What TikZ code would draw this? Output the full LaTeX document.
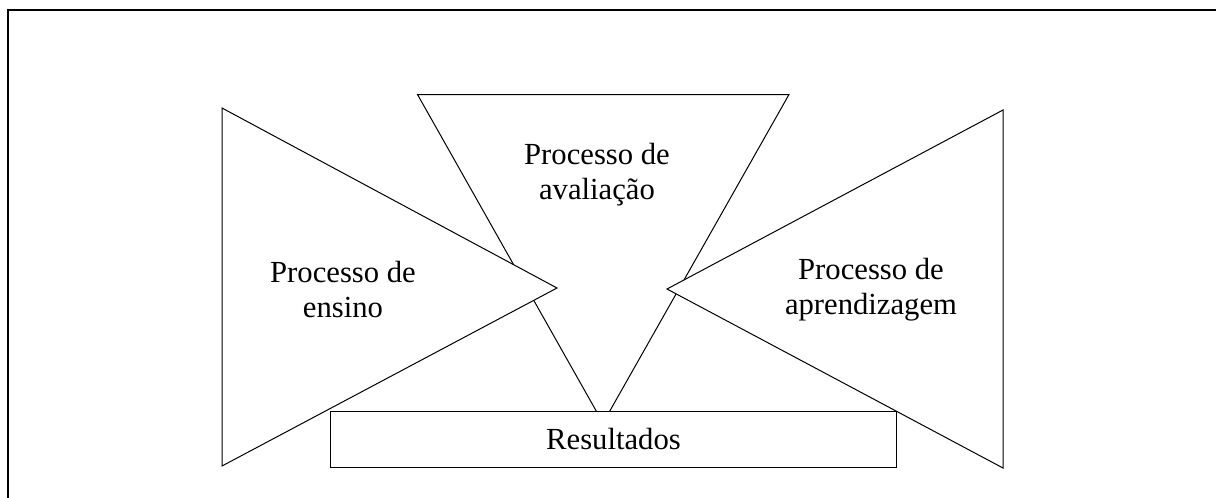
\documentclass[tikz,border=0pt]{standalone}
\usepackage{fontspec}
\setmainfont{Liberation Serif}
\begin{document}
\begin{tikzpicture}[x=0.75pt,y=-0.75pt,
  shapeline/.style={draw=black,line width=0.75pt,fill=white,line join=miter},
  framebox/.style={draw=black,line width=2pt},
  label/.style={align=center,font=\fontsize{23}{26.25}\selectfont,inner sep=0pt}]
\useasboundingbox (0,0) rectangle (1216,497);
\begin{scope}
\clip (0,0) rectangle (1216,497);
\draw[framebox] (8,520) -- (8,10) -- (1240,10);
\end{scope}
% central inverted triangle
\coordinate (cA) at (417.5,94.5);
\coordinate (cB) at (789,94.5);
\coordinate (cC) at (603,423);
\draw[shapeline] (cA) -- (cB) -- (cC) -- cycle;
% left triangle
\coordinate (lA) at (222,108);
\coordinate (lB) at (557,288);
\coordinate (lC) at (222,466);
\draw[shapeline] (lA) -- (lB) -- (lC) -- cycle;
% right triangle
\coordinate (rA) at (1003,110);
\coordinate (rB) at (667,289);
\coordinate (rC) at (1003,468);
\draw[shapeline] (rA) -- (rB) -- (rC) -- cycle;
% results box
\node[shapeline,minimum width=566*0.75pt,minimum height=56*0.75pt,inner sep=0pt,anchor=north west,label] (res) at (330,410.5) {Resultados};
\node[label] (aval) at (597,175) {Processo de\\avaliação};
\node[label] (ens) at (343,290) {Processo de\\ensino};
\node[label] (apr) at (871,290) {Processo de\\aprendizagem};
\end{tikzpicture}
\end{document}
